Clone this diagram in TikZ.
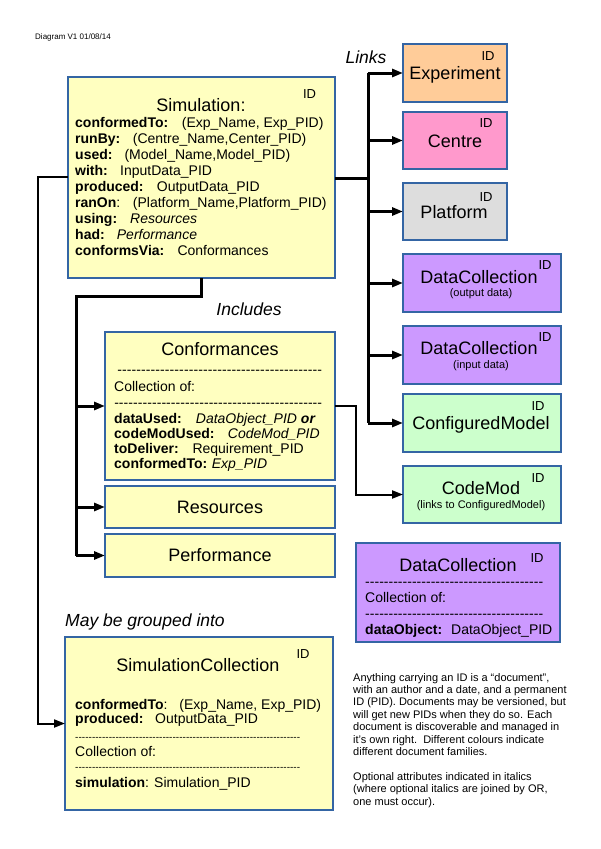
\documentclass[tikz,border=0pt]{standalone}
\usepackage{fontspec}
\setmainfont{Liberation Sans}
\usetikzlibrary{arrows.meta}
\definecolor{bord}{HTML}{3465A4}
\definecolor{yel}{HTML}{FFFFC0}
\definecolor{ora}{HTML}{FFCC99}
\definecolor{pnk}{HTML}{FF99CC}
\definecolor{gry}{HTML}{DDDDDD}
\definecolor{pur}{HTML}{CC99FF}
\definecolor{grn}{HTML}{CCFFCC}
\newcommand\fs[2]{\fontsize{#1}{#2}\selectfont}
\newcommand\dashfill[1]{\hbox to #1{\xleaders\hbox{-}\hfill}}
\newcommand\kv[3]{\makebox[#1][l]{\textbf{#2}}#3}
\begin{document}
\begin{tikzpicture}[x=1pt,y=-1pt,
 box/.style={draw=bord,line width=1.8pt,inner sep=0pt,outer sep=0pt},
 ttl/.style={inner sep=0pt,font=\fs{18}{20},text height=12pt,text depth=0pt},
 idl/.style={inner sep=0pt,font=\fs{13}{14},text height=9.3pt,text depth=0pt},
 att/.style={inner sep=0pt,anchor=west,font=\fs{14}{16},text height=9.5pt,text depth=0pt},
 sub/.style={inner sep=0pt,font=\fs{11}{12},text height=7.5pt,text depth=0pt},
 lbl/.style={inner sep=0pt,font=\fs{17.5}{20}\itshape,text height=12pt,text depth=0pt},
 lnk/.style={line width=3pt},
 thin/.style={line width=2pt},
 arr/.style={-{Triangle[length=11pt,width=8pt]}},
 ]
\useasboundingbox (0,0) rectangle (600,849);
\fill[white] (0,0) rectangle (600,849);

% header and labels
\node[inner sep=0pt,anchor=west,font=\fs{8}{9}] (hdr) at (35,37) {Diagram V1 01/08/14};
\node[lbl] (links) at (366,57) {Links};
\node[lbl] (incl) at (249,309) {Includes};
\node[lbl,anchor=west] (grp) at (65,620) {May be grouped into};

% Simulation
\node[box,fill=yel,minimum width=267pt,minimum height=201pt] (sim) at (201.5,177.5) {};
\node[ttl] (simT) at (201,105) {Simulation:};
\node[idl] (simI) at (309.5,94) {ID};
\node[att] (s1) at (75,123) {\kv{106.7pt}{conformedTo:}{(Exp\_Name, Exp\_PID)}};
\node[att] (s2) at (75,139) {\kv{57.7pt}{runBy:}{(Centre\_Name,Center\_PID)}};
\node[att] (s3) at (75,155) {\kv{49.3pt}{used:}{(Model\_Name,Model\_PID)}};
\node[att] (s4) at (75,171) {\kv{45pt}{with:}{InputData\_PID}};
\node[att] (s5) at (75,187) {\kv{81.7pt}{produced:}{OutputData\_PID}};
\node[att] (s6) at (75,203) {\makebox[57.7pt][l]{\textbf{ranOn}:}(Platform\_Name,Platform\_PID)};
\node[att] (s7) at (75,219) {\kv{55pt}{using:}{\textit{Resources}}};
\node[att] (s8) at (75,235) {\kv{41.7pt}{had:}{\textit{Performance}}};
\node[att] (s9) at (75,251) {\kv{102.3pt}{conformsVia:}{Conformances}};

% Right-hand linked documents
\node[box,fill=ora,minimum width=104pt,minimum height=58pt] (exp) at (455,73) {};
\node[ttl] (expT) at (455,73) {Experiment};
\node[idl] (expI) at (488,56) {ID};
\node[box,fill=pnk,minimum width=104pt,minimum height=57pt] (cen) at (455,140.5) {};
\node[ttl] (cenT) at (455,141) {Centre};
\node[idl] (cenI) at (486,123) {ID};
\node[box,fill=gry,minimum width=104pt,minimum height=57pt] (plt) at (455,211.5) {};
\node[ttl] (pltT) at (454,212) {Platform};
\node[idl] (pltI) at (486,197) {ID};
\node[box,fill=pur,minimum width=158pt,minimum height=58pt] (dco) at (482,283) {};
\node[ttl] (dcoT) at (479,277) {DataCollection};
\node[sub] (dcoS) at (481,293) {(output data)};
\node[idl] (dcoI) at (545,265) {ID};
\node[box,fill=pur,minimum width=158pt,minimum height=58pt] (dci) at (482,355) {};
\node[ttl] (dciT) at (479,348) {DataCollection};
\node[sub] (dciS) at (481,365) {(input data)};
\node[idl] (dciI) at (545,337) {ID};
\node[box,fill=grn,minimum width=158pt,minimum height=58pt] (cfg) at (482,423) {};
\node[ttl] (cfgT) at (481,423) {ConfiguredModel};
\node[idl] (cfgI) at (538,406) {ID};
\node[box,fill=grn,minimum width=158pt,minimum height=57pt] (cmd) at (482,494.5) {};
\node[ttl] (cmdT) at (481,488) {CodeMod};
\node[sub] (cmdS) at (481,505) {(links to ConfiguredModel)};
\node[idl] (cmdI) at (538,478) {ID};

% Included parts
\node[box,fill=yel,minimum width=230pt,minimum height=148pt] (conf) at (220,406) {};
\node[ttl] (confT) at (220,349) {Conformances};
\node[att] (cd1) at (117,370) {\dashfill{205pt}};
\node[att] (cc) at (114,387) {Collection of:};
\node[att] (cd2) at (114,403) {\dashfill{208pt}};
\node[att] (c1) at (114,419) {\kv{81.7pt}{dataUsed:}{\textit{DataObject\_PID} \textbf{\textit{or}}}};
\node[att] (c2) at (114,434) {\kv{113.7pt}{codeModUsed:}{\textit{CodeMod\_PID}}};
\node[att] (c3) at (114,449) {\kv{78.3pt}{toDeliver:}{Requirement\_PID}};
\node[att] (c4) at (114,464) {\kv{97.7pt}{conformedTo:}{\textit{Exp\_PID}}};
\node[box,fill=yel,minimum width=230pt,minimum height=42pt] (res) at (220,507) {};
\node[ttl] (resT) at (220,507) {Resources};
\node[box,fill=yel,minimum width=230pt,minimum height=43pt] (perf) at (220,555.5) {};
\node[ttl] (perfT) at (220,555.5) {Performance};

% DataCollection description
\node[box,fill=pur,minimum width=204pt,minimum height=99pt] (dcs) at (458,592.5) {};
\node[ttl] (dcsT) at (458,565) {DataCollection};
\node[idl] (dcsI) at (537,558) {ID};
\node[att] (dd1) at (365,582) {\dashfill{178pt}};
\node[att] (dc) at (365,598) {Collection of:};
\node[att] (dd2) at (365,614) {\dashfill{178pt}};
\node[att] (d1) at (365,630) {\kv{86pt}{dataObject:}{DataObject\_PID}};

% SimulationCollection
\node[box,fill=yel,minimum width=268pt,minimum height=173pt] (simc) at (199,723.5) {};
\node[ttl] (simcT) at (198,665) {SimulationCollection};
\node[idl] (simcI) at (303,654) {ID};
\node[att] (m1) at (75,705) {\makebox[104.3pt][l]{\textbf{conformedTo}:}(Exp\_Name, Exp\_PID)};
\node[att] (m2) at (75,719) {\kv{80pt}{produced:}{OutputData\_PID}};
\node[att,font=\fs{10}{12}] (md1) at (75,736) {\dashfill{225pt}};
\node[att] (mc) at (75,752) {Collection of:};
\node[att,font=\fs{10}{12}] (md2) at (75,766) {\dashfill{225pt}};
\node[att] (m3) at (75,783) {\makebox[79pt][l]{\textbf{simulation}:}Simulation\_PID};

% Notes
\node[inner sep=0pt,anchor=north west,align=left,font=\fs{11}{12.4}] (note) at (353,673) {%
Anything carrying an ID is a “document”,\\
with an author and a date, and a permanent\\
ID (PID). Documents may be versioned, but\\
will get new PIDs when they do so. Each\\
document is discoverable and managed in\\
it's own right.\ \ Different colours indicate\\
different document families.\\[12.4pt]
Optional attributes indicated in italics\\
(where optional italics are joined by OR,\\
one must occur).};

% Connectors: links
\coordinate (t) at (368,178);
\draw[lnk] (sim.east |- t) -- (t);
\draw[lnk] (t |- exp.west) -- (t |- cfg.west);
\foreach \b in {exp,cen,plt,dco,dci,cfg}{
  \draw[lnk,arr] (t |- \b.west) -- (\b.west);
}
% includes
\coordinate (b) at (76,296);
\draw[lnk] (sim.south) |- (b) -- (b |- perf.west);
\foreach \b in {conf,res,perf}{
  \draw[lnk,arr] (b |- \b.west) -- (\b.west);
}
% conformances to codemod
\coordinate (c) at (356,406);
\draw[thin,arr] (conf.east) -- (c) -- (c |- cmd.west) -- (cmd.west);
% grouped into
\coordinate (l) at (38,177);
\draw[thin,arr] (sim.west |- l) -- (l) -- (l |- simc.west) -- (simc.west);
\end{tikzpicture}
\end{document}
